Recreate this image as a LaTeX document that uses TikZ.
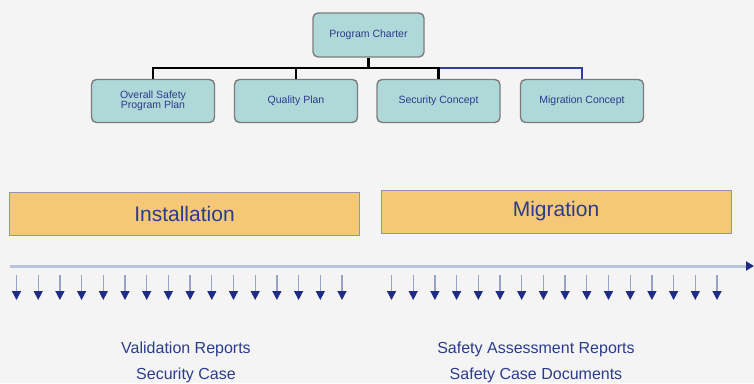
\documentclass[tikz,border=0pt]{standalone}
\usepackage{fontspec}
\setmainfont{Liberation Sans}
\usetikzlibrary{arrows.meta}
\definecolor{bgcol}{HTML}{F4F4F4}
\definecolor{tealbox}{HTML}{AFD8D9}
\definecolor{boxedge}{HTML}{7C7C7C}
\definecolor{labelblue}{HTML}{2C3C8C}
\definecolor{orangebar}{HTML}{F5C878}
\definecolor{baredge}{HTML}{8E95AC}
\definecolor{lineblue}{HTML}{B9C4DB}
\definecolor{tipblue}{HTML}{1E2C86}
\definecolor{busblue}{HTML}{2F3F9E}
\tikzset{
  plan/.style={draw=boxedge,line width=1.4pt,fill=tealbox,rounded corners=5pt,
    minimum width=123pt,minimum height=43pt,align=center,text=labelblue,
    font=\fontsize{10.5}{10.5}\selectfont},
  phase/.style={draw=baredge,line width=1pt,fill=orangebar,minimum width=350pt,
    minimum height=43pt,text=labelblue,font=\fontsize{21}{24}\selectfont},
  report/.style={text=labelblue,font=\fontsize{16}{18}\selectfont},
  conn/.style={line width=2.2pt,black},
  dropdown/.style={draw=lineblue!75!labelblue,line width=1.3pt,
    -{Triangle[length=9pt,width=9pt,color=tipblue]}}
}
\begin{document}
\begin{tikzpicture}[x=1pt,y=-1pt]
\fill[bgcol] (0,0) rectangle (754,383);
\useasboundingbox (0,0) rectangle (754,383);
% chart
\node[plan,minimum width=111pt,minimum height=44pt] (pc) at (368.5,35) {Program Charter};
\node[plan] (osp) at (153,101) {Overall Safety\\Program Plan};
\node[plan] (qp) at (296,101) {Quality Plan};
\node[plan] (sc) at (438.5,101) {Security Concept};
\node[plan] (mc) at (582,101) {Migration Concept};
\coordinate (bus) at (0,68);
\draw[busblue,line width=2.2pt] (sc.north |- bus) -| (mc.north);
\draw[conn] (pc.south) -- (pc.south |- bus);
\draw[conn] (osp.north) |- (bus -| sc.north) -- (sc.north);
\draw[conn] (qp.north) -- (qp.north |- bus);
% phases
\node[phase] (inst) at (184.5,213.5) {Installation};
\node[phase] (migr) at (556,211.5) {Migration};
\coordinate (tl0) at (10,266);
\coordinate (tl1) at (754,266);
\draw[lineblue,line width=3pt,-{Triangle[length=8pt,width=9pt,color=tipblue]}] (tl0) -- (tl1);
\foreach \i in {0,...,15}{
  \coordinate (l\i) at (16.5+21.7*\i,275);
  \draw[dropdown] (l\i) -- ++(0,25);
  \coordinate (r\i) at (391.5+21.7*\i,275);
  \draw[dropdown] (r\i) -- ++(0,25);
}
% outputs
\node[report] (vr) at (186,349) {Validation Reports};
\node[report] (scs) at (186,375) {Security Case};
\node[report] (sar) at (536,349) {Safety Assessment Reports};
\node[report] (scd) at (536,375) {Safety Case Documents};
\end{tikzpicture}
\end{document}
